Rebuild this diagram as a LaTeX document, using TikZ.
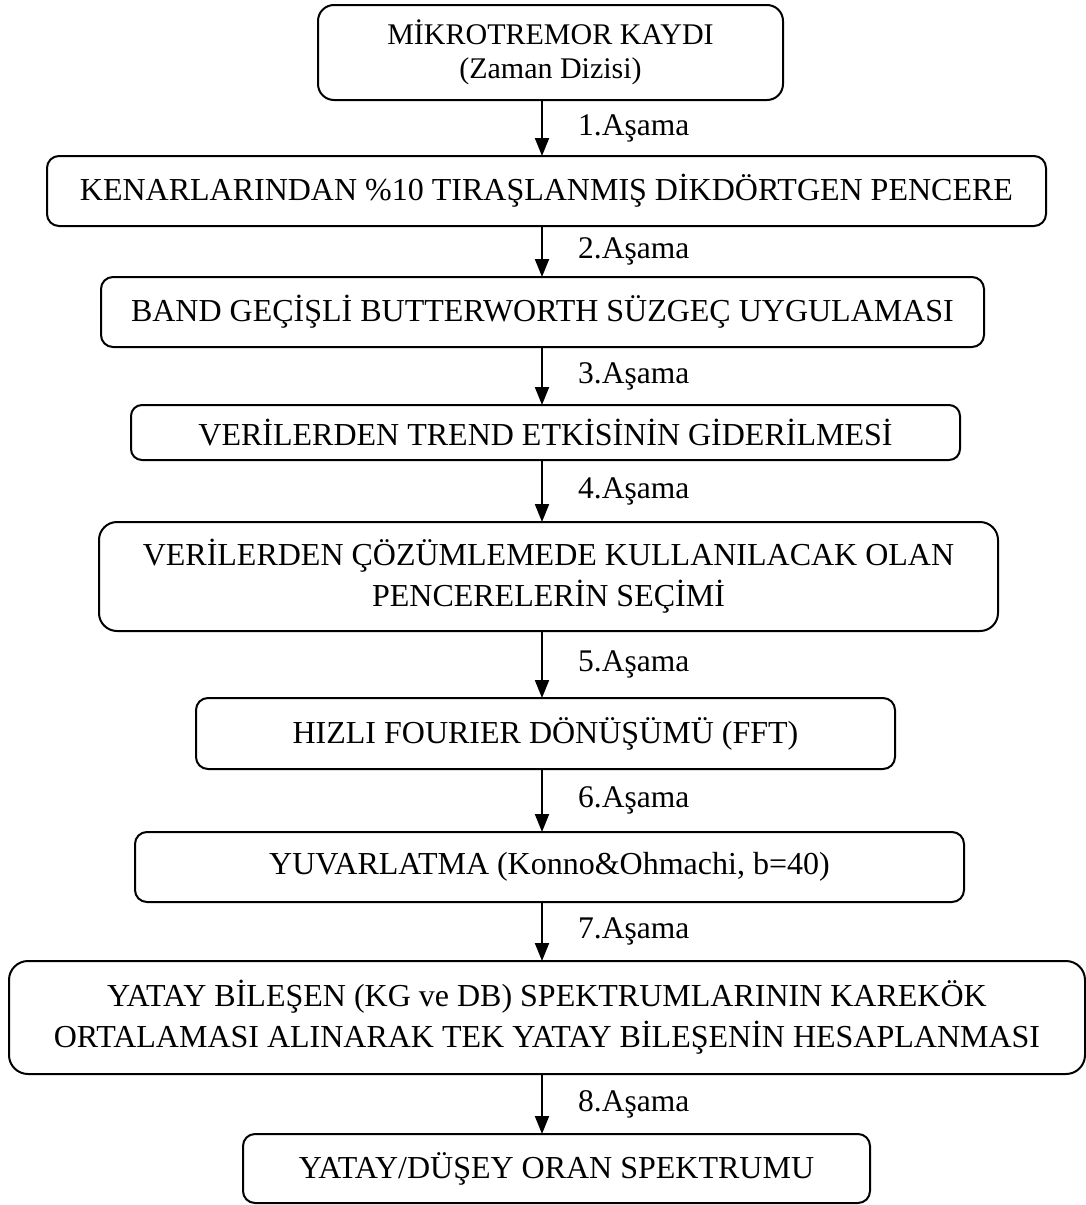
\documentclass[tikz,border=0pt]{standalone}
\usepackage{fontspec}
\setmainfont{Liberation Serif}
\usetikzlibrary{arrows.meta}
\begin{document}
\begin{tikzpicture}[x=1pt,y=-1pt,
  box/.style={draw, line width=2pt, inner sep=0pt, outer sep=0pt, align=center,
    font=\fontsize{32}{41}\selectfont},
  lbl/.style={anchor=west, inner sep=0pt, font=\fontsize{31.5}{36}\selectfont},
  arr/.style={line width=2pt, -{Triangle[width=14pt,length=18pt]}}]
\useasboundingbox (0,0) rectangle (1086,1205);
\coordinate (ax) at (542,0);
\node[box, rounded corners=16pt, minimum width=465pt, minimum height=95pt,
  font=\fontsize{30}{34}\selectfont] (b1) at (550.5,52.5) {MİKROTREMOR KAYDI\\(Zaman Dizisi)};
\node[box, rounded corners=12pt, minimum width=999pt, minimum height=70pt] (b2) at (546.5,191)
  {KENARLARINDAN \%10 TIRAŞLANMIŞ DİKDÖRTGEN PENCERE};
\node[box, rounded corners=12pt, minimum width=883pt, minimum height=70pt] (b3) at (542.5,312)
  {BAND GEÇİŞLİ BUTTERWORTH SÜZGEÇ UYGULAMASI};
\node[box, rounded corners=11pt, minimum width=829pt, minimum height=55pt] (b4) at (545.5,432.5)
  {VERİLERDEN TREND ETKİSİNİN GİDERİLMESİ};
\node[box, rounded corners=18pt, minimum width=899pt, minimum height=109pt] (b5) at (548.5,576.5)
  {VERİLERDEN ÇÖZÜMLEMEDE KULLANILACAK OLAN\\PENCERELERİN SEÇİMİ};
\node[box, rounded corners=12pt, minimum width=699pt, minimum height=71pt] (b6) at (545.5,733.5)
  {HIZLI FOURIER DÖNÜŞÜMÜ (FFT)};
\node[box, rounded corners=12pt, minimum width=829pt, minimum height=70pt] (b7) at (549.5,867)
  {YUVARLATMA (Konno\&Ohmachi, b=40)};
\node[box, rounded corners=19pt, minimum width=1076pt, minimum height=113pt] (b8) at (547,1017.5)
  {YATAY BİLEŞEN (KG ve DB) SPEKTRUMLARININ KAREKÖK\\ORTALAMASI ALINARAK TEK YATAY BİLEŞENİN HESAPLANMASI};
\node[box, rounded corners=12pt, minimum width=627pt, minimum height=69pt] (b9) at (556.5,1168.5)
  {YATAY/DÜŞEY ORAN SPEKTRUMU};
\draw[arr] (b1.south -| ax) -- (b2.north -| ax);
\draw[arr] (b2.south -| ax) -- (b3.north -| ax);
\draw[arr] (b3.south -| ax) -- (b4.north -| ax);
\draw[arr] (b4.south -| ax) -- (b5.north -| ax);
\draw[arr] (b5.south -| ax) -- (b6.north -| ax);
\draw[arr] (b6.south -| ax) -- (b7.north -| ax);
\draw[arr] (b7.south -| ax) -- (b8.north -| ax);
\draw[arr] (b8.south -| ax) -- (b9.north -| ax);
\node[lbl] (l1) at (578,128) {1.Aşama};
\node[lbl] (l2) at (578,251.5) {2.Aşama};
\node[lbl] (l3) at (578,376) {3.Aşama};
\node[lbl] (l4) at (578,491) {4.Aşama};
\node[lbl] (l5) at (578,664.5) {5.Aşama};
\node[lbl] (l6) at (578,800.5) {6.Aşama};
\node[lbl] (l7) at (578,931.5) {7.Aşama};
\node[lbl] (l8) at (578,1104) {8.Aşama};
\end{tikzpicture}
\end{document}
